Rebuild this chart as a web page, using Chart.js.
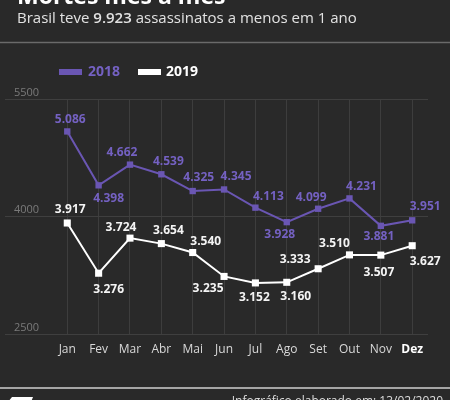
<!DOCTYPE html>
<html>
<head>
<meta charset="utf-8">
<script src="https://cdn.jsdelivr.net/npm/chart.js@4"></script>
<style>
  html, body { margin: 0; padding: 0; background: #292929; }
  #wrap { width: 450px; height: 400px; position: relative; }
</style>
</head>
<body>
<div id="wrap"><canvas id="chart"></canvas></div>
<script>
const months = ['Jan', 'Fev', 'Mar', 'Abr', 'Mai', 'Jun', 'Jul', 'Ago', 'Set', 'Out', 'Nov', 'Dez'];
const deaths2018 = [5086, 4398, 4662, 4539, 4325, 4345, 4113, 3928, 4099, 4231, 3881, 3951];
const deaths2019 = [3917, 3276, 3724, 3654, 3540, 3235, 3152, 3160, 3333, 3510, 3507, 3627];
const yTicks = [2500, 4000, 5500];

// where each value label sits relative to its point (dx, dy in px)
const labelDx2018 = [3, 10, -8, 7, 6, 12, 13, -7, -7, 12, -2, 13];
const labelDy2018 = [-12, 13, -12, -13, -13, -13, -11, 12, -11, -12, 11, -14];
const labelDx2019 = [3, 10, -9, 7, 13, -16, -1, 9, -23, -15, -2, 13];
const labelDy2019 = [-13, 16, -11, -13, -11, 12, 15, 14, -9, -11, 17, 16];

const PURPLE = '#6a56b3';
const PURPLE_TXT = '#7461c2';

function fmt(n) {
    const s = String(n);
    return s.slice(0, s.length - 3) + '.' + s.slice(-3);
}

const decor = {
    id: 'decor',
    afterDatasetsDraw(chart) {
        const ctx = chart.ctx;
        ctx.save();
        ctx.textAlign = 'center';
        ctx.textBaseline = 'middle';
        ctx.font = 'bold 12px "Open Sans"';
        const sets = [
            [deaths2018, labelDx2018, labelDy2018, PURPLE_TXT],
            [deaths2019, labelDx2019, labelDy2019, '#f4f4f4']
        ];
        sets.forEach(([vals, dx, dy, color], di) => {
            const meta = chart.getDatasetMeta(di);
            ctx.fillStyle = color;
            meta.data.forEach((pt, i) => {
                ctx.fillText(fmt(vals[i]), pt.x + dx[i], pt.y + dy[i]);
            });
        });
        ctx.restore();
    },
    afterDraw(chart) {
        const ctx = chart.ctx;
        ctx.save();
        // title (cut off at top) and subtitle
        ctx.fillStyle = '#ffffff';
        ctx.textBaseline = 'alphabetic';
        ctx.textAlign = 'left';
        ctx.font = 'bold 23px "Open Sans"';
        ctx.fillText('Mortes mês a mês', 17, 4);

        ctx.fillStyle = '#e2e2e2';
        let x = 17;
        const parts = [['Brasil teve ', 'normal'], ['9.923', '600'], [' assassinatos a menos em 1 ano', 'normal']];
        parts.forEach(([t, w]) => {
            ctx.font = w + ' 15px "Open Sans"';
            ctx.fillText(t, x, 23);
            x += ctx.measureText(t).width;
        });

        ctx.strokeStyle = '#6a6a6a';
        ctx.lineWidth = 1.5;
        ctx.beginPath();
        ctx.moveTo(0, 42.5);
        ctx.lineTo(450, 42.5);
        ctx.stroke();

        // legend
        ctx.font = 'bold 14px "Open Sans"';
        ctx.textBaseline = 'middle';
        ctx.fillStyle = PURPLE;
        ctx.fillRect(59, 69, 23, 6);
        ctx.fillStyle = PURPLE_TXT;
        ctx.fillText('2018', 88, 72);
        ctx.fillStyle = '#ffffff';
        ctx.fillRect(138, 69, 23, 6);
        ctx.fillText('2019', 166, 72);

        // footer
        ctx.strokeStyle = '#cfcfcf';
        ctx.lineWidth = 1.5;
        ctx.beginPath();
        ctx.moveTo(0, 388);
        ctx.lineTo(450, 388);
        ctx.stroke();

        ctx.fillStyle = '#ffffff';
        ctx.beginPath();
        ctx.moveTo(12, 397);
        ctx.lineTo(33, 397);
        ctx.lineTo(31, 402);
        ctx.lineTo(8, 402);
        ctx.closePath();
        ctx.fill();

        ctx.fillStyle = '#dcdcdc';
        ctx.textAlign = 'right';
        ctx.textBaseline = 'alphabetic';
        ctx.font = '12px "Open Sans"';
        ctx.fillText('Infográfico elaborado em: 13/02/2020', 443, 405);
        ctx.restore();
    }
};

new Chart(document.getElementById('chart'), {
    type: 'line',
    data: {
        datasets: [{
            label: '2018',
            data: deaths2018.map((v, i) => ({ x: i, y: v })),
            borderColor: PURPLE,
            backgroundColor: PURPLE,
            borderWidth: 2,
            pointStyle: 'rect',
            pointRadius: 4.5,
            pointBorderWidth: 0,
            tension: 0
        }, {
            label: '2019',
            data: deaths2019.map((v, i) => ({ x: i, y: v })),
            borderColor: '#ffffff',
            backgroundColor: '#ffffff',
            borderWidth: 2,
            pointStyle: 'rect',
            pointRadius: 5,
            pointBorderWidth: 0,
            tension: 0
        }]
    },
    options: {
        responsive: true,
        maintainAspectRatio: false,
        animation: false,
        layout: { padding: { left: 0, top: 99, right: 22, bottom: 36 } },
        plugins: {
            legend: { display: false },
            tooltip: { enabled: false }
        },
        scales: {
            x: {
                type: 'linear',
                min: -1.986,
                max: 11.504,
                afterBuildTicks: s => { s.ticks = months.map((m, i) => ({ value: i })); },
                afterFit: s => { s.height = 30; },
                border: { display: false },
                grid: { color: '#3d3d3d', drawTicks: false, lineWidth: 1 },
                ticks: {
                    padding: 8,
                    autoSkip: false,
                    maxRotation: 0,
                    callback: v => months[v],
                    color: c => c.index === 11 ? '#ffffff' : '#d8d8d8',
                    font: c => ({ family: 'Open Sans', size: 12, weight: c.index === 11 ? 'bold' : 'normal' })
                }
            },
            y: {
                min: 2500,
                max: 5500,
                afterBuildTicks: s => { s.ticks = yTicks.map(v => ({ value: v })); },
                afterFit: s => { s.width = 0; },
                border: { display: false },
                grid: { color: '#3f3f3f', drawTicks: false, lineWidth: 1 },
                ticks: {
                    mirror: true,
                    padding: 9,
                    labelOffset: -6.5,
                    callback: v => String(v),
                    color: '#7a7a7a',
                    font: { family: 'Open Sans', size: 11 }
                }
            }
        }
    },
    plugins: [decor]
});
</script>
</body>
</html>
